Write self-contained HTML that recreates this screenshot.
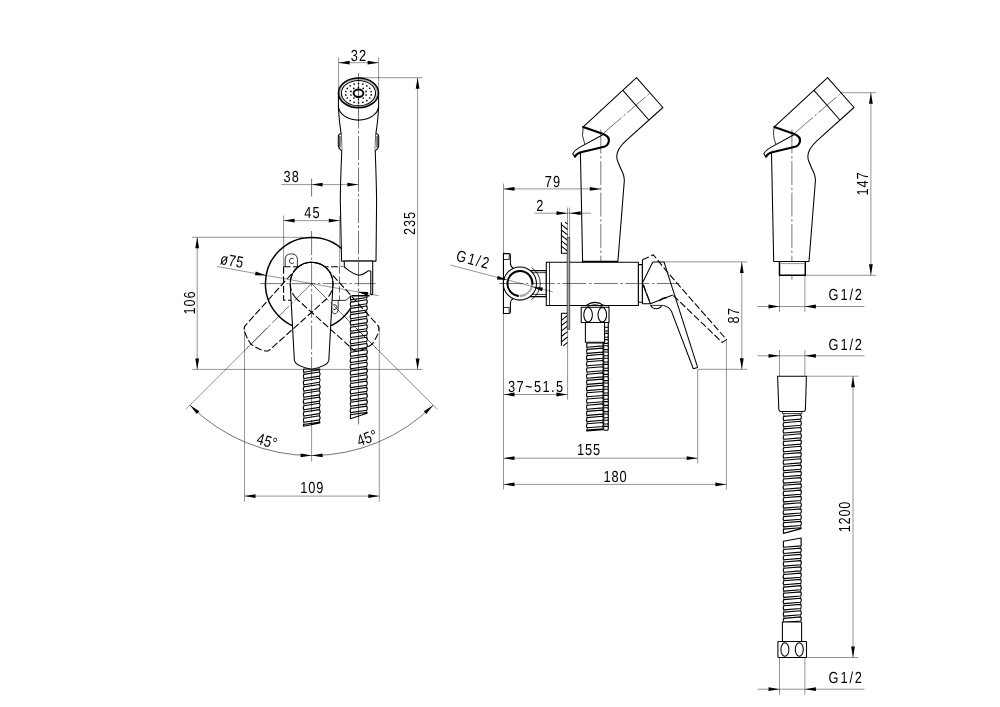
<!DOCTYPE html>
<html lang="en"><head><meta charset="utf-8"><title>Technical drawing</title>
<style>
html,body{margin:0;padding:0;background:#fff}
svg{display:block}
path,circle,ellipse{fill:none;stroke:#000;stroke-linecap:butt;stroke-linejoin:round}
.t{stroke-width:.42}
.t2{stroke-width:.55}
.o{stroke-width:1.05}
.o1{stroke-width:.8}
.ow{stroke-width:1.05;fill:#fff}
.k{stroke-width:1.5}
.kw{stroke-width:1.5;fill:#fff}
.k2{stroke-width:2}
.k4{stroke-width:2}
.k3{stroke-width:2.2;stroke-linecap:round}
.c{stroke-width:.55;stroke-dasharray:24 2.5 2.5 2.5}
.c2{stroke-width:.55;stroke-dasharray:24 2.5 2.5 2.5}
.d{stroke-width:1.1;stroke-dasharray:7 2.5}
.a{fill:#000;stroke:none}
.dot{fill:#000;stroke:none}
.pl{fill:#aaa;stroke-width:.6}
.hb{fill:#fff;stroke:none}
.hl{stroke-width:.7}
.hr{stroke-width:1.1;fill:#fff}
text{font-family:"Liberation Sans",sans-serif;font-size:16px;fill:#000;text-rendering:geometricPrecision}
svg{filter:grayscale(1)}
</style></head>
<body>
<svg width="1000" height="707" viewBox="0 0 1000 707">
<rect x="0" y="0" width="1000" height="707" fill="#fff" stroke="none"/>
<circle class="k" cx="311.6" cy="283.6" r="46.2"/>
<path class="d" d="M283.6 266.7H343.5M283.6 266.7V300.3H296M339.6 266.7V300.3"/>
<path class="o1" d="M329 300.4H339.6"/>
<path class="o1" d="M285.2 266.7V259.5Q285.2 253.9 291.3 253.9Q297.4 253.9 297.4 259.5V266.7"/>
<path class="o1" d="M293.6 258.8A2.6 2.6 0 1 0 293.9 262.6"/>
<path class="o1" d="M331.5 300.5V308Q331.5 313.5 334.8 313.8Q338.2 313.5 338.2 308V300.5"/>
<path class="o1" d="M333 305.2A2.4 2.4 0 1 1 332.6 308.6"/>
<path class="hb" d="M303.4 369L320 369L320 423L303.4 426.2Z"/>
<path class="hl" d="M303.9 369.5V425.4M319.5 369.5V422.2"/>
<path class="hr" d="M303.9 374.4L319.5 372Q320.8 374 319.5 376.1L303.9 378.5Q302.6 376.4 303.9 374.4ZM303.9 380.7L319.5 378.3Q320.8 380.3 319.5 382.3L303.9 384.7Q302.6 382.7 303.9 380.7ZM303.9 386.9L319.5 384.5Q320.8 386.6 319.5 388.6L303.9 391Q302.6 389 303.9 386.9ZM303.9 393.2L319.5 390.8Q320.8 392.8 319.5 394.9L303.9 397.3Q302.6 395.2 303.9 393.2ZM303.9 399.5L319.5 397.1Q320.8 399.1 319.5 401.1L303.9 403.5Q302.6 401.5 303.9 399.5ZM303.9 405.7L319.5 403.3Q320.8 405.3 319.5 407.4L303.9 409.8Q302.6 407.7 303.9 405.7ZM303.9 412L319.5 409.6Q320.8 411.6 319.5 413.6L303.9 416Q302.6 414 303.9 412ZM303.9 418.2L319.5 415.8Q320.8 417.9 319.5 419.9L303.9 422.3Q302.6 420.3 303.9 418.2ZM303.5 424.5L319.9 422.1L319.9 423L303.5 426.2ZM303.6 369L319.8 369L319.8 369.8L303.6 372.2Z"/>
<path class="ow" d="M338.4 93 L338.4 108 Q339.2 122 341.2 134.4 Q342 145 341.6 156 Q340.5 180 340.3 200 L341.6 261.1 L376 261.1 L376.6 200 Q376.3 180 375.4 156 Q375 145 375.8 134.4 Q377.8 122 378.6 108 L378.6 93 Z"/>
<path class="ow" d="M341.2 133.6Q338.3 134 338.3 137V146Q338.6 148.8 341.8 150.9"/>
<path class="ow" d="M375.8 133.6Q378.7 134 378.7 137V146Q378.4 148.8 375.2 150.9"/>
<path class="o" d="M339.9 136V147.4"/>
<path class="o" d="M377.1 136V147.4"/>
<path class="o" d="M338.4 105.7 A20.1 14.4 0 0 0 378.6 105.7"/>
<ellipse class="kw" cx="358.5" cy="92.9" rx="20" ry="14.9"/>
<ellipse class="t" cx="358.5" cy="93" rx="18.8" ry="13.9" fill="none"/>
<ellipse class="o" cx="358.5" cy="93.1" rx="17.1" ry="12.7" fill="none"/>
<ellipse class="k2" cx="358.5" cy="93.3" rx="4.9" ry="3.7" fill="none"/>
<circle class="dot" cx="358.5" cy="99.1" r="0.85"/>
<circle class="dot" cx="353.8" cy="98" r="0.85"/>
<circle class="dot" cx="350.9" cy="95" r="0.85"/>
<circle class="dot" cx="350.9" cy="91.4" r="0.85"/>
<circle class="dot" cx="353.8" cy="88.4" r="0.85"/>
<circle class="dot" cx="358.5" cy="87.3" r="0.85"/>
<circle class="dot" cx="363.2" cy="88.4" r="0.85"/>
<circle class="dot" cx="366.1" cy="91.4" r="0.85"/>
<circle class="dot" cx="366.1" cy="95" r="0.85"/>
<circle class="dot" cx="363.2" cy="98" r="0.85"/>
<circle class="dot" cx="358.5" cy="102.9" r="0.85"/>
<circle class="dot" cx="354.1" cy="102.3" r="0.85"/>
<circle class="dot" cx="350.2" cy="100.6" r="0.85"/>
<circle class="dot" cx="347.3" cy="98" r="0.85"/>
<circle class="dot" cx="345.8" cy="94.9" r="0.85"/>
<circle class="dot" cx="345.8" cy="91.5" r="0.85"/>
<circle class="dot" cx="347.3" cy="88.4" r="0.85"/>
<circle class="dot" cx="350.2" cy="85.8" r="0.85"/>
<circle class="dot" cx="354.1" cy="84.1" r="0.85"/>
<circle class="dot" cx="358.5" cy="83.5" r="0.85"/>
<circle class="dot" cx="362.9" cy="84.1" r="0.85"/>
<circle class="dot" cx="366.8" cy="85.8" r="0.85"/>
<circle class="dot" cx="369.7" cy="88.3" r="0.85"/>
<circle class="dot" cx="371.2" cy="91.5" r="0.85"/>
<circle class="dot" cx="371.2" cy="94.9" r="0.85"/>
<circle class="dot" cx="369.7" cy="98" r="0.85"/>
<circle class="dot" cx="366.8" cy="100.6" r="0.85"/>
<circle class="dot" cx="362.9" cy="102.3" r="0.85"/>
<path class="hb" d="M344.3 261.1H372.7V294.6 L367.7 296 H349.9 L346.6 300.3 H339.6 V266.7H344.3Z"/>
<path class="o" d="M344.3 261.1V267L349 270.6Q354 274.4 358.6 275.2Q363 275 366.6 272Q369.2 269.8 370.8 271.4V294.8"/>
<path class="o" d="M372.7 261.1V294.2L370.8 295"/>
<path class="o1" d="M350.6 296.2L345.6 300.4H338.6"/>
<path class="o" d="M344.3 261.1H372.7"/>
<path class="k" d="M352 295.8H369.6"/>
<path class="hb" d="M350.3 296L367.2 296L367.2 413.3L350.3 418.7Z"/>
<path class="hl" d="M350.8 296.5V417.9M366.7 296.5V412.5"/>
<path class="hr" d="M350.8 302.1L366.7 299.7Q368 301.7 366.7 303.8L350.8 306.2Q349.5 304.1 350.8 302.1ZM350.8 308.4L366.7 306Q368 308 366.7 310L350.8 312.4Q349.5 310.4 350.8 308.4ZM350.8 314.6L366.7 312.2Q368 314.3 366.7 316.3L350.8 318.7Q349.5 316.7 350.8 314.6ZM350.8 320.9L366.7 318.5Q368 320.5 366.7 322.6L350.8 325Q349.5 322.9 350.8 320.9ZM350.8 327.2L366.7 324.8Q368 326.8 366.7 328.8L350.8 331.2Q349.5 329.2 350.8 327.2ZM350.8 333.4L366.7 331Q368 333 366.7 335.1L350.8 337.5Q349.5 335.4 350.8 333.4ZM350.8 339.7L366.7 337.3Q368 339.3 366.7 341.3L350.8 343.7Q349.5 341.7 350.8 339.7ZM350.8 345.9L366.7 343.5Q368 345.6 366.7 347.6L350.8 350Q349.5 348 350.8 345.9ZM350.8 352.2L366.7 349.8Q368 351.8 366.7 353.9L350.8 356.3Q349.5 354.2 350.8 352.2ZM350.8 358.5L366.7 356.1Q368 358.1 366.7 360.1L350.8 362.5Q349.5 360.5 350.8 358.5ZM350.8 364.7L366.7 362.3Q368 364.3 366.7 366.4L350.8 368.8Q349.5 366.7 350.8 364.7ZM350.8 371L366.7 368.6Q368 370.6 366.7 372.6L350.8 375Q349.5 373 350.8 371ZM350.8 377.2L366.7 374.8Q368 376.9 366.7 378.9L350.8 381.3Q349.5 379.3 350.8 377.2ZM350.8 383.5L366.7 381.1Q368 383.1 366.7 385.2L350.8 387.6Q349.5 385.5 350.8 383.5ZM350.8 389.8L366.7 387.4Q368 389.4 366.7 391.4L350.8 393.8Q349.5 391.8 350.8 389.8ZM350.8 396L366.7 393.6Q368 395.6 366.7 397.7L350.8 400.1Q349.5 398 350.8 396ZM350.8 402.3L366.7 399.9Q368 401.9 366.7 403.9L350.8 406.3Q349.5 404.3 350.8 402.3ZM350.8 408.5L366.7 406.1Q368 408.2 366.7 410.2L350.8 412.6Q349.5 410.6 350.8 408.5ZM350.4 414.8L367.1 412.4L367.1 413.3L350.4 418.7ZM350.5 296L367 296L367 297.5L350.5 299.9Z"/>
<path class="hb" d="M290.2 283.6 A21.4 21.4 0 0 1 333 283.6 L328.8 360.9 Q327.1 366.2 311.6 369.3 Q296.1 366.2 294.4 360.9 Z"/>
<path class="d" d="M290.2 283.6 A21.4 21.4 0 0 1 333 283.6 L328.8 360.9 Q327.1 366.2 311.6 369.3 Q296.1 366.2 294.4 360.9 Z" transform="rotate(45 311.6 283.6)"/>
<path class="d" d="M290.2 283.6 A21.4 21.4 0 0 1 333 283.6 L328.8 360.9 Q327.1 366.2 311.6 369.3 Q296.1 366.2 294.4 360.9 Z" transform="rotate(-45 311.6 283.6)"/>
<path class="o" d="M290.2 283.6 A21.4 21.4 0 0 1 333 283.6 L328.8 360.9 Q327.1 366.2 311.6 369.3 Q296.1 366.2 294.4 360.9 Z"/>
<path class="c" d="M311.6 178.6L311.6 196.5"/>
<path class="c" d="M311.6 231L311.6 426"/>
<path class="t" d="M311.6 426L311.6 461.5"/>
<path class="c" d="M259.8 283.6L375.5 283.6"/>
<path class="c" d="M358.5 73L358.5 296"/>
<path class="t2" d="M358.5 296L358.5 424.5"/>
<path class="c" d="M311.6 283.6L244.4 350.8"/>
<path class="t" d="M269.2 326L186.1 409.1"/>
<path class="c" d="M311.6 283.6L378.8 350.8"/>
<path class="t" d="M354 326L437.1 409.1"/>
<path class="t" d="M338.6 57.5L338.6 92"/>
<path class="t" d="M378.6 57.5L378.6 92"/>
<path class="t" d="M338.6 62.7L378.6 62.7"/>
<path class="a" d="M338.6 62.7L349.6 60.8L349.6 64.6Z"/>
<path class="a" d="M378.6 62.7L367.6 64.6L367.6 60.8Z"/>
<text x="-9.6" y="0" textLength="19.2" lengthAdjust="spacing" transform="translate(358.5 60.7) scale(0.8 1)">32</text>
<path class="t" d="M281.4 184.6L358.4 184.6"/>
<path class="a" d="M311.6 184.6L322.6 182.7L322.6 186.5Z"/>
<path class="a" d="M358.4 184.6L347.4 186.5L347.4 182.7Z"/>
<text x="-9.6" y="0" textLength="19.2" lengthAdjust="spacing" transform="translate(291.3 182) scale(0.8 1)">38</text>
<path class="t" d="M283.6 215.4L283.6 266.7"/>
<path class="t" d="M283.6 220.6L339.8 220.6"/>
<path class="a" d="M283.6 220.6L294.6 218.7L294.6 222.5Z"/>
<path class="a" d="M339.8 220.6L328.8 222.5L328.8 218.7Z"/>
<path class="t" d="M339.7 215.8L339.7 266.7"/>
<text x="-9.6" y="0" textLength="19.2" lengthAdjust="spacing" transform="translate(312 218) scale(0.8 1)">45</text>
<path class="t" d="M358.5 77.7L422.5 77.7"/>
<path class="t" d="M191.9 369.4L422.5 369.4"/>
<path class="t" d="M417.6 77.7L417.6 369.4"/>
<path class="a" d="M417.6 77.7L419.5 88.7L415.7 88.7Z"/>
<path class="a" d="M417.6 369.4L415.7 358.4L419.5 358.4Z"/>
<text x="-14.4" y="0" textLength="28.9" lengthAdjust="spacing" transform="translate(415 223.5) rotate(-90) scale(0.8 1)">235</text>
<path class="t" d="M191.9 237.3L303 237.3"/>
<path class="t" d="M197.2 237.3L197.2 369.4"/>
<path class="a" d="M197.2 237.3L199.1 248.3L195.3 248.3Z"/>
<path class="a" d="M197.2 369.4L195.3 358.4L199.1 358.4Z"/>
<text x="-14.4" y="0" textLength="28.9" lengthAdjust="spacing" transform="translate(195 303) rotate(-90) scale(0.8 1)">106</text>
<path class="t" d="M217.1 266.5L378.5 295.7"/>
<path class="a" d="M266.1 275.4L255 275.3L255.7 271.5Z"/>
<path class="a" d="M357.1 291.8L368.2 291.9L367.5 295.7Z"/>
<text x="0" y="0" textLength="28.8" lengthAdjust="spacing" transform="translate(219.6 264) rotate(10.3) scale(0.8 1)">ø75</text>
<path class="t" d="M244.5 327L244.5 501.5"/>
<path class="t" d="M379.3 327L379.3 501.5"/>
<path class="t" d="M244.5 496.1L379.3 496.1"/>
<path class="a" d="M244.5 496.1L255.5 494.2L255.5 498Z"/>
<path class="a" d="M379.3 496.1L368.3 498L368.3 494.2Z"/>
<text x="-14.4" y="0" textLength="28.9" lengthAdjust="spacing" transform="translate(311.8 493.1) scale(0.8 1)">109</text>
<path class="t2" d="M190 405.2 A172 172 0 0 0 433.2 405.2"/>
<path class="a" d="M190 405.2L199.4 411.3L196.8 414.1Z"/>
<path class="a" d="M433.2 405.2L426.4 414.1L423.8 411.3Z"/>
<path class="a" d="M311.6 455.6L300.5 457.2L300.7 453.4Z"/>
<path class="a" d="M311.6 455.6L322.5 453.4L322.7 457.2Z"/>
<text x="-12.7" y="0" textLength="25.5" lengthAdjust="spacing" transform="translate(265.4 446.4) rotate(15.9) scale(0.8 1)">45°</text>
<text x="-12.7" y="0" textLength="25.5" lengthAdjust="spacing" transform="translate(368.7 443.2) rotate(-19.7) scale(0.8 1)">45°</text>
<path class="o" d="M561.4 222.2V253.3H567.5"/>
<path class="o" d="M561.4 246.2L567.5 251.1M561.4 240.8L567.5 245.7M561.4 235.4L567.5 240.3M561.4 230L567.5 234.9M561.4 224.6L567.5 229.5M565.1 222.2L567.5 224.1"/>
<path class="o" d="M567.5 313.2H561.4V345.8"/>
<path class="o" d="M561.4 320.3L567.5 315.4M561.4 325.7L567.5 320.8M561.4 331.1L567.5 326.2M561.4 336.5L567.5 331.6M561.4 341.9L567.5 337M563.2 345.8L567.5 342.4"/>
<path class="ow" d="M503.4 253.6H509Q510.4 253.6 510.4 255V263.5Q510.6 267 514 269.2 L514 297.6 Q510.6 300 510.4 303.5V312Q510.4 313.4 509 313.4H503.4Z"/>
<path class="o1" d="M503.4 259.5H509.2V254M503.4 307.5H509.2V313"/>
<path class="ow" d="M528 270.6H546.3V296.6H528Z"/>
<path class="o1" d="M530 272.7H546.3M530 294.4H546.3"/>
<circle class="ow" cx="519.9" cy="283.5" r="16.6"/>
<path class="o1" d="M531.5 267.5A19 19 0 0 1 531.5 299.5"/>
<path class="k4" d="M532.4 284.5 A12.5 12.5 0 1 0 518.9 296"/>
<path class="t" d="M519.9 296.5 A13.0 13.0 0 0 0 532.9 283.5M519.9 295.4 A11.9 11.9 0 0 0 531.8 283.5"/>
<path class="hb" d="M583.2 126.8 L636.5 77.6 L662.9 107.5 L626 140.6 Q614 151.5 617.6 161 Q619.5 166 622.6 172.5 Q624.6 177 624.3 181 L617.9 261.4 L582.6 261.4 L580.4 152.6L584.6 144 Q581 135.5 583.2 126.8Z"/>
<path class="o" d="M583.2 126.8 L636.5 77.6 L662.9 107.5 L626 140.6 Q614 151.5 617.6 161 Q619.5 166 622.6 172.5 Q624.6 177 624.3 181 L617.9 261.4 L582.6 261.4 L580.4 152.6"/>
<path class="o1" d="M583.2 126.8 Q581 135.5 584.8 144.2"/>
<path class="o" d="M622.7 90.1L648.8 120"/>
<path class="hb" d="M572.7 153.7 Q574.5 150.2 579.2 147.6 L602.5 135 L603 147 L581 152.2 Q576.6 153.4 574.8 156.6 Z"/>
<path class="o" d="M574.8 156.6 L572.7 153.7 Q574.5 150.2 579.2 147.6 L602.8 134.8"/>
<path class="k3" d="M583.2 127 L603.2 134 Q609.8 136.6 608.8 141.6 Q607.8 146.4 602 147.2 L581 152.3 Q576.6 153.6 574.8 156.6"/>
<path class="c2" d="M600.8 129.6L600.8 268.6"/>
<path class="c" d="M603.5 133.2L650.6 92.6"/>
<path class="hb" d="M586.6 343L603.2 343L603.2 429.6L586.6 430.9Z"/>
<path class="hl" d="M587.1 343.5V430.1M602.7 343.5V428.8"/>
<path class="hr" d="M587.1 349.4L602.7 348.1Q604 350.1 602.7 352.1L587.1 353.4Q585.8 351.4 587.1 349.4ZM587.1 355.6L602.7 354.3Q604 356.3 602.7 358.3L587.1 359.6Q585.8 357.6 587.1 355.6ZM587.1 361.8L602.7 360.5Q604 362.5 602.7 364.5L587.1 365.8Q585.8 363.8 587.1 361.8ZM587.1 368L602.7 366.7Q604 368.7 602.7 370.7L587.1 372Q585.8 370 587.1 368ZM587.1 374.2L602.7 372.9Q604 374.9 602.7 376.9L587.1 378.2Q585.8 376.2 587.1 374.2ZM587.1 380.4L602.7 379.1Q604 381.1 602.7 383.1L587.1 384.4Q585.8 382.4 587.1 380.4ZM587.1 386.6L602.7 385.3Q604 387.3 602.7 389.3L587.1 390.6Q585.8 388.6 587.1 386.6ZM587.1 392.8L602.7 391.5Q604 393.5 602.7 395.5L587.1 396.8Q585.8 394.8 587.1 392.8ZM587.1 399L602.7 397.7Q604 399.7 602.7 401.7L587.1 403Q585.8 401 587.1 399ZM587.1 405.2L602.7 403.9Q604 405.9 602.7 407.9L587.1 409.2Q585.8 407.2 587.1 405.2ZM587.1 411.4L602.7 410.1Q604 412.1 602.7 414.1L587.1 415.4Q585.8 413.4 587.1 411.4ZM587.1 417.6L602.7 416.3Q604 418.3 602.7 420.3L587.1 421.6Q585.8 419.6 587.1 417.6ZM587.1 423.8L602.7 422.5Q604 424.5 602.7 426.5L587.1 427.8Q585.8 425.8 587.1 423.8ZM586.7 430L603.1 428.7L603.1 429.6L586.7 430.9ZM586.8 343L603 343L603 345.9L586.8 347.2Z"/>
<path class="hb" d="M603.6 322.4H608.8V430H603.6"/>
<path class="hr" d="M603.8 426.4H607.8Q609.2 428.3 607.8 430.2H603.8M603.8 420.2H607.8Q609.2 422.1 607.8 424H603.8M603.8 414H607.8Q609.2 415.9 607.8 417.8H603.8M603.8 407.8H607.8Q609.2 409.7 607.8 411.6H603.8M603.8 401.6H607.8Q609.2 403.5 607.8 405.4H603.8M603.8 395.4H607.8Q609.2 397.3 607.8 399.2H603.8M603.8 389.2H607.8Q609.2 391.1 607.8 393H603.8M603.8 383H607.8Q609.2 384.9 607.8 386.8H603.8M603.8 376.8H607.8Q609.2 378.7 607.8 380.6H603.8M603.8 370.6H607.8Q609.2 372.5 607.8 374.4H603.8M603.8 364.4H607.8Q609.2 366.3 607.8 368.2H603.8M603.8 358.2H607.8Q609.2 360.1 607.8 362H603.8M603.8 352H607.8Q609.2 353.9 607.8 355.8H603.8M603.8 345.8H607.8Q609.2 347.7 607.8 349.6H603.8M603.8 339.6H607.8Q609.2 341.5 607.8 343.4H603.8M603.8 333.4H607.8Q609.2 335.3 607.8 337.2H603.8M603.8 327.2H607.8Q609.2 329.1 607.8 331H603.8M603.7 322.4V430M608.3 322.4V429.6"/>
<path class="ow" d="M585.4 322.4H604.6V342.2H585.4Z"/>
<path class="ow" d="M581.2 307.2H609V322.4H581.2Z"/>
<ellipse class="o" cx="588.1" cy="314.8" rx="4.3" ry="7.2" fill="none"/>
<ellipse class="o" cx="602.3" cy="314.8" rx="4.3" ry="7.2" fill="none"/>
<path class="o1" d="M604 305.4H608.6V307.2"/>
<path class="ow" d="M546.3 262.2H638.4V305.4H546.3Z"/>
<path class="o1" d="M549.5 262.2V305.4"/>
<path class="k" d="M582.6 261.6H617.9"/>
<path class="o" d="M586.2 305.4 Q594.8 299.4 603.8 305.4"/>
<path class="o1" d="M587.4 307 Q594.8 302.4 602.6 307"/>
<path class="pl" d="M567.2 237.4H569.7V329.4H567.2Z"/>
<path class="ow" d="M638.4 264.6H642.4V302.2H638.4Z"/>
<path class="hb" d="M652.8 261.9 H664 L697.7 367.6 L693.3 368.7 L671.6 311.6 Q669.4 306.6 663.4 305.4 L650.4 303.8 L642.4 303.8 V259.8 Z"/>
<path class="o" d="M642.4 259.8V303.8H650.4"/>
<path class="o" d="M642.4 283 L652.8 261.9 H664 L697.7 367.6 L693.3 368.7 L671.6 311.6 Q669.4 306.6 663.4 305.4"/>
<path class="o" d="M642.4 283 L650.4 303.8 L672.8 295"/>
<path class="o" d="M650.6 305.2 Q652.4 308.7 656.2 308.7 Q660 308.7 661.8 305.4"/>
<path class="o1" d="M650.4 305.4H663.4"/>
<path class="k" d="M659.6 300.6 Q662.6 297.8 666.6 297.6"/>
<path class="d" d="M642.4 259.8 L653.4 254.8 L666.4 271 L726.6 339.6 L722.2 342.4 L672.8 295"/>
<path class="d" d="M643.4 285L650 302.4"/>
<path class="c" d="M499.4 283.5L679.4 283.5"/>
<path class="t" d="M503.5 183.6L503.5 489.5"/>
<path class="t" d="M503.5 188.9L600.8 188.9"/>
<path class="a" d="M503.5 188.9L514.5 187L514.5 190.8Z"/>
<path class="a" d="M600.8 188.9L589.8 190.8L589.8 187Z"/>
<text x="-9.6" y="0" textLength="19.2" lengthAdjust="spacing" transform="translate(552.4 186.5) scale(0.8 1)">79</text>
<path class="t" d="M534.3 213.2L591.1 213.2"/>
<path class="a" d="M567.5 213.2L556.5 215.1L556.5 211.3Z"/>
<path class="a" d="M569.6 213.2L580.6 211.3L580.6 215.1Z"/>
<path class="t" d="M567.5 207.6L567.5 237.4"/>
<path class="t" d="M569.6 207.6L569.6 237.4"/>
<text x="-4.8" y="0" textLength="9.6" lengthAdjust="spacing" transform="translate(540.2 210.8) scale(0.8 1)">2</text>
<path class="t" d="M450.4 265.1L552.8 291.8"/>
<path class="a" d="M507 280.1L496.9 279.5L497.8 275.8Z"/>
<path class="a" d="M532.8 286.9L542.9 287.5L542 291.2Z"/>
<text x="0" y="0" textLength="41.7" lengthAdjust="spacing" transform="translate(455.2 260.4) rotate(14.6) scale(0.8 1)">G1/2</text>
<path class="t" d="M567.6 329.4L567.6 399.7"/>
<path class="t" d="M503.5 394.5L567.4 394.5"/>
<path class="a" d="M503.5 394.5L514.5 392.6L514.5 396.4Z"/>
<path class="a" d="M567.4 394.5L556.4 396.4L556.4 392.6Z"/>
<text x="-34.4" y="0" textLength="68.8" lengthAdjust="spacing" transform="translate(535.6 391.7) scale(0.8 1)">37~51.5</text>
<path class="t" d="M697.7 369.3L697.7 463.5"/>
<path class="t" d="M503.5 458.2L697.7 458.2"/>
<path class="a" d="M503.5 458.2L514.5 456.3L514.5 460.1Z"/>
<path class="a" d="M697.7 458.2L686.7 460.1L686.7 456.3Z"/>
<text x="-14.4" y="0" textLength="28.9" lengthAdjust="spacing" transform="translate(588.6 455.4) scale(0.8 1)">155</text>
<path class="t" d="M726.4 341L726.4 489.5"/>
<path class="t" d="M503.5 484.4L726.4 484.4"/>
<path class="a" d="M503.5 484.4L514.5 482.5L514.5 486.3Z"/>
<path class="a" d="M726.4 484.4L715.4 486.3L715.4 482.5Z"/>
<text x="-14.4" y="0" textLength="28.9" lengthAdjust="spacing" transform="translate(615 481.6) scale(0.8 1)">180</text>
<path class="t" d="M664 261.9L747.2 261.9"/>
<path class="t" d="M697.7 369.3L747.2 369.3"/>
<path class="t" d="M741.8 261.9L741.8 369.3"/>
<path class="a" d="M741.8 261.9L743.7 272.9L739.9 272.9Z"/>
<path class="a" d="M741.8 369.3L739.9 358.3L743.7 358.3Z"/>
<text x="-9.6" y="0" textLength="19.2" lengthAdjust="spacing" transform="translate(739.2 315.8) rotate(-90) scale(0.8 1)">87</text>
<path class="hb" d="M774.3 126.8 L827.6 77.6 L854 107.5 L817.1 140.6 Q805.1 151.5 808.7 161 Q810.6 166 813.7 172.5 Q815.7 177 815.4 181 L809 261.4 L773.7 261.4 L771.5 152.6L775.7 144 Q772.1 135.5 774.3 126.8Z"/>
<path class="o" d="M774.3 126.8 L827.6 77.6 L854 107.5 L817.1 140.6 Q805.1 151.5 808.7 161 Q810.6 166 813.7 172.5 Q815.7 177 815.4 181 L809 261.4 L773.7 261.4 L771.5 152.6"/>
<path class="o1" d="M774.3 126.8 Q772.1 135.5 775.9 144.2"/>
<path class="o" d="M813.8 90.1L839.9 120"/>
<path class="hb" d="M763.8 153.7 Q765.6 150.2 770.3 147.6 L793.6 135 L794.1 147 L772.1 152.2 Q767.7 153.4 765.9 156.6 Z"/>
<path class="o" d="M765.9 156.6 L763.8 153.7 Q765.6 150.2 770.3 147.6 L793.9 134.8"/>
<path class="k3" d="M774.3 127 L794.3 134 Q800.9 136.6 799.9 141.6 Q798.9 146.4 793.1 147.2 L772.1 152.3 Q767.7 153.6 765.9 156.6"/>
<path class="c2" d="M791.9 129.6L791.9 281"/>
<path class="c" d="M794.6 133.2L841.7 92.6"/>
<path class="hb" d="M779.5 262 H805.3 V275.3 H779.5Z"/>
<path class="k" d="M779.5 262 V275.3 H805.3 V262"/>
<path class="t" d="M780.7 263.6 H804.1"/>
<path class="t" d="M840.8 92.7L876 92.7"/>
<path class="t" d="M805.3 275.3L876 275.3"/>
<path class="t" d="M870.9 92.7L870.9 275.3"/>
<path class="a" d="M870.9 92.7L872.8 103.7L869 103.7Z"/>
<path class="a" d="M870.9 275.3L869 264.3L872.8 264.3Z"/>
<text x="-14.4" y="0" textLength="28.9" lengthAdjust="spacing" transform="translate(868 184) rotate(-90) scale(0.8 1)">147</text>
<path class="t" d="M779.5 275.3L779.5 311.9"/>
<path class="t" d="M804.9 275.3L804.9 311.9"/>
<path class="t" d="M757.6 306.5L864.5 306.5"/>
<path class="a" d="M779.5 306.5L768.5 308.4L768.5 304.6Z"/>
<path class="a" d="M804.9 306.5L815.9 304.6L815.9 308.4Z"/>
<text x="0" y="0" textLength="41.7" lengthAdjust="spacing" transform="translate(828.6 300.4) scale(0.8 1)">G1/2</text>
<path class="t" d="M779.5 350L779.5 376.2"/>
<path class="t" d="M804.9 350L804.9 376.2"/>
<path class="t" d="M757.6 355.8L864.5 355.8"/>
<path class="a" d="M779.5 355.8L768.5 357.7L768.5 353.9Z"/>
<path class="a" d="M804.9 355.8L815.9 353.9L815.9 357.7Z"/>
<text x="0" y="0" textLength="41.7" lengthAdjust="spacing" transform="translate(828.6 349.7) scale(0.8 1)">G1/2</text>
<path class="t" d="M779.5 657.5L779.5 694.8"/>
<path class="t" d="M804.9 657.5L804.9 694.8"/>
<path class="t" d="M757.6 689.2L864.5 689.2"/>
<path class="a" d="M779.5 689.2L768.5 691.1L768.5 687.3Z"/>
<path class="a" d="M804.9 689.2L815.9 687.3L815.9 691.1Z"/>
<text x="0" y="0" textLength="41.7" lengthAdjust="spacing" transform="translate(828.6 683.1) scale(0.8 1)">G1/2</text>
<path class="hb" d="M783.3 413.6L801.2 413.6L801.2 528.6L783.3 533.4Z"/>
<path class="hl" d="M783.8 414.1V532.6M800.7 414.1V527.8"/>
<path class="hr" d="M783.8 416.4L800.7 415Q802 417 800.7 419.1L783.8 420.5Q782.5 418.4 783.8 416.4ZM783.8 422.7L800.7 421.3Q802 423.3 800.7 425.3L783.8 426.7Q782.5 424.7 783.8 422.7ZM783.8 428.9L800.7 427.5Q802 429.6 800.7 431.6L783.8 433Q782.5 431 783.8 428.9ZM783.8 435.2L800.7 433.8Q802 435.8 800.7 437.9L783.8 439.3Q782.5 437.2 783.8 435.2ZM783.8 441.5L800.7 440.1Q802 442.1 800.7 444.1L783.8 445.5Q782.5 443.5 783.8 441.5ZM783.8 447.7L800.7 446.3Q802 448.3 800.7 450.4L783.8 451.8Q782.5 449.7 783.8 447.7ZM783.8 454L800.7 452.6Q802 454.6 800.7 456.6L783.8 458Q782.5 456 783.8 454ZM783.8 460.2L800.7 458.8Q802 460.9 800.7 462.9L783.8 464.3Q782.5 462.3 783.8 460.2ZM783.8 466.5L800.7 465.1Q802 467.1 800.7 469.2L783.8 470.6Q782.5 468.5 783.8 466.5ZM783.8 472.8L800.7 471.4Q802 473.4 800.7 475.4L783.8 476.8Q782.5 474.8 783.8 472.8ZM783.8 479L800.7 477.6Q802 479.6 800.7 481.7L783.8 483.1Q782.5 481 783.8 479ZM783.8 485.3L800.7 483.9Q802 485.9 800.7 487.9L783.8 489.3Q782.5 487.3 783.8 485.3ZM783.8 491.5L800.7 490.1Q802 492.2 800.7 494.2L783.8 495.6Q782.5 493.6 783.8 491.5ZM783.8 497.8L800.7 496.4Q802 498.4 800.7 500.5L783.8 501.9Q782.5 499.8 783.8 497.8ZM783.8 504.1L800.7 502.7Q802 504.7 800.7 506.7L783.8 508.1Q782.5 506.1 783.8 504.1ZM783.8 510.3L800.7 508.9Q802 510.9 800.7 513L783.8 514.4Q782.5 512.3 783.8 510.3ZM783.8 516.6L800.7 515.2Q802 517.2 800.7 519.2L783.8 520.6Q782.5 518.6 783.8 516.6ZM783.8 522.8L800.7 521.4Q802 523.5 800.7 525.5L783.8 526.9Q782.5 524.9 783.8 522.8ZM783.4 529.1L801.1 527.7L801.1 528.6L783.4 533.4Z"/>
<path class="hb" d="M783.3 541.2L801.2 538L801.2 621L783.3 622.4Z"/>
<path class="hl" d="M783.8 541.7V621.6M800.7 538.5V620.2"/>
<path class="hr" d="M783.8 549.5L800.7 548.1Q802 550.1 800.7 552.1L783.8 553.5Q782.5 551.5 783.8 549.5ZM783.8 555.8L800.7 554.4Q802 556.4 800.7 558.4L783.8 559.8Q782.5 557.8 783.8 555.8ZM783.8 562L800.7 560.6Q802 562.6 800.7 564.7L783.8 566.1Q782.5 564 783.8 562ZM783.8 568.3L800.7 566.9Q802 568.9 800.7 570.9L783.8 572.3Q782.5 570.3 783.8 568.3ZM783.8 574.5L800.7 573.1Q802 575.2 800.7 577.2L783.8 578.6Q782.5 576.6 783.8 574.5ZM783.8 580.8L800.7 579.4Q802 581.4 800.7 583.4L783.8 584.8Q782.5 582.8 783.8 580.8ZM783.8 587.1L800.7 585.6Q802 587.7 800.7 589.7L783.8 591.1Q782.5 589.1 783.8 587.1ZM783.8 593.3L800.7 591.9Q802 593.9 800.7 596L783.8 597.4Q782.5 595.3 783.8 593.3ZM783.8 599.6L800.7 598.2Q802 600.2 800.7 602.2L783.8 603.6Q782.5 601.6 783.8 599.6ZM783.8 605.8L800.7 604.4Q802 606.5 800.7 608.5L783.8 609.9Q782.5 607.9 783.8 605.8ZM783.8 612.1L800.7 610.7Q802 612.7 800.7 614.7L783.8 616.1Q782.5 614.1 783.8 612.1ZM783.8 618.4L800.7 616.9Q802 619 800.7 621L783.8 622.4Q782.5 620.4 783.8 618.4ZM783.4 541.2L801.1 538L801.1 545.9L783.4 547.3Z"/>
<path class="ow" d="M777.6 376.2H806.4L805.4 409.4Q805.3 411.4 803.3 411.4H780.8Q778.9 411.4 778.8 409.4Z"/>
<path class="o1" d="M782.4 411.4V413.6H801.8V411.4"/>
<path class="ow" d="M782.4 622H801.6V641.5H782.4Z"/>
<path class="ow" d="M778.6 641.5H805.8Q806.5 641.5 806.5 642.2V656.8Q806.5 657.5 805.8 657.5H778.6Q777.9 657.5 777.9 656.8V642.2Q777.9 641.5 778.6 641.5Z"/>
<ellipse class="o" cx="784.9" cy="649.5" rx="4" ry="6.7" fill="none"/>
<ellipse class="o" cx="799.3" cy="649.5" rx="4" ry="6.7" fill="none"/>
<path class="t" d="M806.4 376.2L858.4 376.2"/>
<path class="t" d="M806.4 657.5L858.4 657.5"/>
<path class="t" d="M853 376.2L853 657.5"/>
<path class="a" d="M853 376.2L854.9 387.2L851.1 387.2Z"/>
<path class="a" d="M853 657.5L851.1 646.5L854.9 646.5Z"/>
<text x="-19.2" y="0" textLength="38.5" lengthAdjust="spacing" transform="translate(850.4 517) rotate(-90) scale(0.8 1)">1200</text>
</svg>
</body></html>
